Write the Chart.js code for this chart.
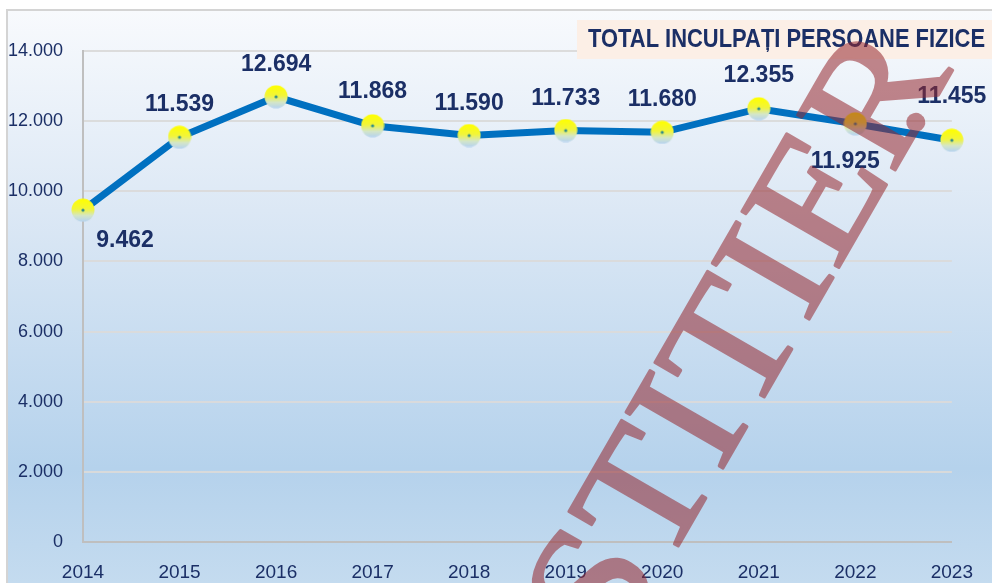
<!DOCTYPE html>
<html>
<head>
<meta charset="utf-8">
<script src="https://cdn.jsdelivr.net/npm/chart.js@4.4.1/dist/chart.umd.min.js"></script>
<style>
  html, body { margin: 0; padding: 0; background: #fff; }
  canvas { display: block; }
</style>
</head>
<body>
<canvas id="inculpatiChart" width="992" height="583"></canvas>
<script>
// --- data ---
const years = ['2014', '2015', '2016', '2017', '2018', '2019', '2020', '2021', '2022', '2023'];
const totalInculpati = [9462, 11539, 12694, 11868, 11590, 11733, 11680, 12355, 11925, 11455];
const yTicks = [0, 2000, 4000, 6000, 8000, 10000, 12000, 14000];
const chartTitle = 'TOTAL INCULPAȚI PERSOANE FIZICE';
const watermarkText = 'JUSTITIER';

// label placement relative to each point (dx, dy)
const labelOffset = [[42, 31], [0, -33], [0, -32], [0, -34], [0, -32], [0, -32], [0, -33], [0, -33], [-10, 38], [0, -44]];

const navy = '#1b2f66';
const sans = "'Liberation Sans', Arial, sans-serif";
const serifFamily = "'Liberation Serif', 'Times New Roman', 'DejaVu Serif', serif";

function fmt(n) {
  return String(n).replace(/\B(?=(\d{3})+(?!\d))/g, '.');
}

// yellow -> light blue marker
function makeMarker() {
  const c = document.createElement('canvas');
  c.width = 24; c.height = 24;
  const g = c.getContext('2d');
  const grad = g.createLinearGradient(0, 1, 0, 23);
  grad.addColorStop(0, '#ffff00');
  grad.addColorStop(0.45, '#f2f53a');
  grad.addColorStop(0.75, '#d4e6c8');
  grad.addColorStop(1, '#b8d4ee');
  g.fillStyle = grad;
  g.beginPath();
  g.arc(12, 12, 11.5, 0, Math.PI * 2);
  g.fill();
  g.fillStyle = '#2e8a8a';
  g.beginPath();
  g.arc(12, 12, 1.6, 0, Math.PI * 2);
  g.fill();
  return c;
}

const backdrop = {
  id: 'backdrop',
  beforeDraw(chart) {
    const ctx = chart.ctx;
    ctx.save();
    ctx.fillStyle = '#ffffff';
    ctx.fillRect(0, 0, chart.width, chart.height);
    const grad = ctx.createLinearGradient(0, 10, 0, chart.height);
    grad.addColorStop(0, '#f8fafd');
    grad.addColorStop(0.35, '#dce8f5');
    grad.addColorStop(0.8, '#b5d2ec');
    grad.addColorStop(1, '#c4dbef');
    ctx.fillStyle = grad;
    ctx.fillRect(7, 10, chart.width - 7, chart.height - 10);
    ctx.strokeStyle = '#d4d4d4';
    ctx.lineWidth = 2;
    ctx.beginPath();
    ctx.moveTo(7, chart.height);
    ctx.lineTo(7, 10);
    ctx.lineTo(chart.width, 10);
    ctx.stroke();
    ctx.restore();
  }
};

const valueLabels = {
  id: 'valueLabels',
  afterDatasetsDraw(chart) {
    const ctx = chart.ctx;
    const pts = chart.getDatasetMeta(0).data;
    ctx.save();
    ctx.font = 'bold 23px ' + sans;
    ctx.fillStyle = navy;
    ctx.textAlign = 'center';
    ctx.textBaseline = 'middle';
    pts.forEach((p, i) => {
      const [dx, dy] = labelOffset[i];
      ctx.fillText(fmt(totalInculpati[i]), p.x + dx, p.y + dy);
    });
    ctx.restore();
  }
};

// watermark rendered opaque off-screen, then laid over with transparency.
// Sized from the cap height and squeezed so the first T and the R land where they sit in the scan.
function drawWatermark(ctx, w, h) {
  const off = document.createElement('canvas');
  off.width = w; off.height = h;
  const g = off.getContext('2d');
  g.font = '100px ' + serifFamily;
  const capAt100 = g.measureText('T').actualBoundingBoxAscent;
  const size = Math.round(111 / capAt100 * 100);
  g.font = size + 'px ' + serifFamily;
  const lead = g.measureText('JUS').width + g.measureText('T').width / 2;
  const rStart = g.measureText('JUSTITIE').width;
  const sx = 400 / (rStart - lead);
  const ang = -Math.PI / 3;
  g.translate(692, 522);
  g.rotate(ang);
  // dot sitting by the foot of the R
  g.fillStyle = '#96282f';
  g.beginPath();
  g.arc(458, -6, 9.5, 0, Math.PI * 2);
  g.fill();
  g.scale(sx, 1);
  g.strokeStyle = '#96282f';
  g.lineWidth = 3;
  g.lineJoin = 'round';
  g.fillText(watermarkText, -lead, 0);
  g.strokeText(watermarkText, -lead, 0);
  ctx.save();
  ctx.globalAlpha = 0.55;
  ctx.drawImage(off, 0, 0);
  ctx.restore();
}

const overlay = {
  id: 'overlay',
  afterDraw(chart) {
    const ctx = chart.ctx;
    ctx.save();
    // title box, text squeezed to look like a narrow face
    ctx.fillStyle = '#fcefe6';
    ctx.fillRect(577, 20, 415, 39);
    ctx.font = 'bold 25px ' + sans;
    ctx.fillStyle = navy;
    ctx.textAlign = 'left';
    ctx.textBaseline = 'middle';
    const w = ctx.measureText(chartTitle).width;
    ctx.translate(588, 40);
    ctx.scale(397 / w, 1);
    ctx.fillText(chartTitle, 0, 0);
    ctx.restore();

    drawWatermark(ctx, chart.width, chart.height);
  }
};

new Chart(document.getElementById('inculpatiChart'), {
  type: 'line',
  data: {
    labels: years,
    datasets: [{
      data: totalInculpati,
      borderColor: '#0070c0',
      borderWidth: 7,
      tension: 0,
      pointStyle: makeMarker(),
      pointRadius: 11,
      pointHoverRadius: 11
    }]
  },
  options: {
    responsive: false,
    animation: false,
    devicePixelRatio: 1,
    layout: { padding: { top: 51, right: 37, left: 0, bottom: 0 } },
    plugins: {
      legend: { display: false },
      title: { display: false },
      tooltip: { enabled: false }
    },
    scales: {
      x: {
        offset: false,
        afterFit: (s) => { s.height = 41; },
        grid: { display: false, drawTicks: false },
        border: { color: '#bfbfbf', width: 2 },
        ticks: { color: navy, padding: 19, font: { family: sans, size: 19 } }
      },
      y: {
        min: 0,
        max: 14000,
        afterFit: (s) => { s.width = 83; },
        afterBuildTicks: (s) => { s.ticks = yTicks.map(v => ({ value: v })); },
        grid: { color: 'rgba(218, 218, 218, 0.95)', lineWidth: 2, drawTicks: false },
        border: { color: '#bfbfbf', width: 2 },
        ticks: { color: navy, padding: 20, font: { family: sans, size: 18 }, callback: (v) => fmt(v) }
      }
    }
  },
  plugins: [backdrop, valueLabels, overlay]
});
</script>
</body>
</html>
